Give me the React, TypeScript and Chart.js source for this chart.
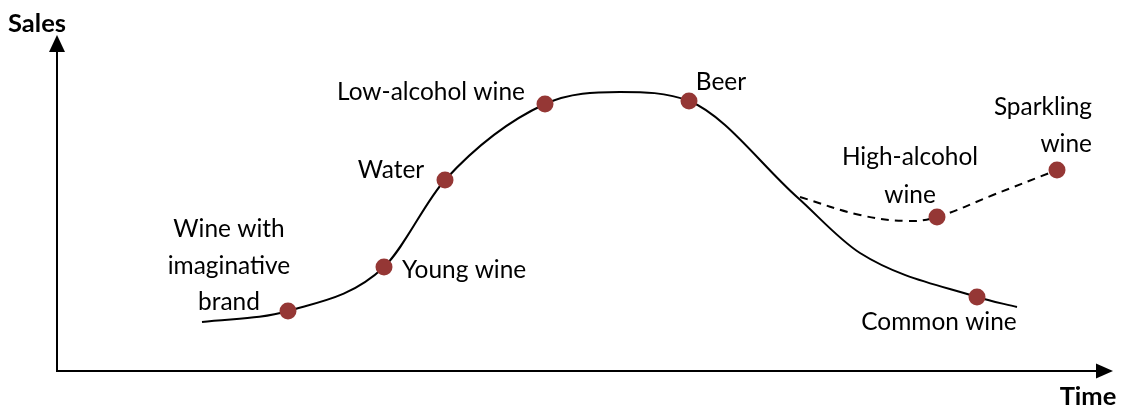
import { useEffect, useRef } from "react";
import { Chart, registerables } from "chart.js";

Chart.register(...registerables);

// Main life-cycle curve (time, sales)
const curveTime = [144, 230, 326, 387, 487, 562, 631, 739, 802, 919, 959];
const curveSales = [50, 61, 105, 192, 268, 280, 271, 175, 119, 75, 65];

// Relaunch branch (dashed)
const branchTime = [742, 802, 849, 879, 935, 999];
const branchSales = [175, 157, 151, 155, 177, 202];

// Products placed on the cycle
const products = [
  "Wine with imaginative brand",
  "Young wine",
  "Water",
  "Low-alcohol wine",
  "Beer",
  "High-alcohol wine",
  "Sparkling wine",
  "Common wine",
];
const productTime = [230, 326, 387, 487, 631, 879, 999, 919];
const productSales = [61, 105, 192, 268, 271, 155, 202, 75];

// Label text broken into lines, one entry per product
const productLabelLines = [
  ["Wine with", "imaginative", "brand"],
  ["Young wine"],
  ["Water"],
  ["Low-alcohol wine"],
  ["Beer"],
  ["High-alcohol", "wine"],
  ["Sparkling", "wine"],
  ["Common wine"],
];

const axisTitleY = "Sales";
const axisTitleX = "Time";

// Label placement relative to each dot: pixel offset, alignment, line height
const labelPlacement = [
  { dx: -59, dy: -74, align: "center", lh: 36.5 },
  { dx: 18, dy: 11, align: "left", lh: 37 },
  { dx: -54, dy: -2, align: "center", lh: 37 },
  { dx: -114, dy: -4, align: "center", lh: 37 },
  { dx: 32, dy: -11, align: "center", lh: 37 },
  { dx: -27, dy: -52, align: "center", lh: 38 },
  { dx: 35, dy: -55, align: "right", lh: 37 },
  { dx: -38, dy: 33, align: "center", lh: 37 },
];

const DOT = "#953735";
const FONT = "Lato, 'Open Sans', sans-serif";

function fitSize(ctx: CanvasRenderingContext2D, text: string, width: number, weight: string) {
  ctx.font = `${weight} 100px ${FONT}`;
  const w = ctx.measureText(text).width;
  return (100 * width) / w;
}

const diagramPlugin = {
  id: "lifecycleDecor",
  beforeDatasetsDraw(chart: any) {
    const { ctx, chartArea } = chart;
    const { left, right, top, bottom } = chartArea;
    ctx.save();
    ctx.strokeStyle = "#000";
    ctx.fillStyle = "#000";
    ctx.lineWidth = 2;
    const ax = left - 1;
    const ay = bottom - 1;
    // axis lines
    ctx.beginPath();
    ctx.moveTo(ax, ay);
    ctx.lineTo(ax, top + 14);
    ctx.moveTo(ax - 1, ay);
    ctx.lineTo(right - 14, ay);
    ctx.stroke();
    // arrow heads
    ctx.beginPath();
    ctx.moveTo(ax, top);
    ctx.lineTo(ax - 8, top + 17);
    ctx.lineTo(ax + 8, top + 17);
    ctx.closePath();
    ctx.fill();
    ctx.beginPath();
    ctx.moveTo(right, ay);
    ctx.lineTo(right - 17, ay - 7.5);
    ctx.lineTo(right - 17, ay + 7.5);
    ctx.closePath();
    ctx.fill();
    ctx.restore();
  },
  afterDatasetsDraw(chart: any) {
    const { ctx, scales } = chart;
    const xs = scales.x;
    const ys = scales.y;
    ctx.save();
    ctx.fillStyle = "#000";
    ctx.textBaseline = "alphabetic";

    const labelSize = fitSize(ctx, "Low-alcohol wine", 188, "normal");
    ctx.font = `normal ${labelSize}px ${FONT}`;
    productLabelLines.forEach((lines, i) => {
      const p = labelPlacement[i];
      const px = xs.getPixelForValue(productTime[i]) + p.dx;
      const py = ys.getPixelForValue(productSales[i]) + p.dy;
      ctx.textAlign = p.align;
      lines.forEach((line, k) => ctx.fillText(line, px, py + k * p.lh));
    });

    const titleSize = fitSize(ctx, axisTitleY, 58, "bold");
    ctx.font = `bold ${titleSize}px ${FONT}`;
    ctx.textAlign = "center";
    ctx.fillText(axisTitleY, 37, 32);
    ctx.fillText(axisTitleX, 1088, 405);
    ctx.restore();
  },
};

export default function App() {
  const canvasRef = useRef<HTMLCanvasElement | null>(null);

  useEffect(() => {
    const canvas = canvasRef.current;
    if (!canvas) return;
    const chart = new Chart(canvas, {
      type: "scatter",
      data: {
        datasets: [
          {
            label: "Products",
            data: productTime.map((t, i) => ({ x: t, y: productSales[i] })),
            backgroundColor: DOT,
            borderColor: DOT,
            pointRadius: 8.5,
            pointBorderWidth: 0,
            showLine: false,
            clip: false,
          },
          {
            label: "Life cycle",
            data: curveTime.map((t, i) => ({ x: t, y: curveSales[i] })),
            showLine: true,
            borderColor: "#000",
            borderWidth: 2,
            pointRadius: 0,
            cubicInterpolationMode: "monotone",
            clip: false,
          },
          {
            label: "Relaunch",
            data: branchTime.map((t, i) => ({ x: t, y: branchSales[i] })),
            showLine: true,
            borderColor: "#000",
            borderWidth: 2,
            borderDash: [8, 6],
            pointRadius: 0,
            tension: 0.4,
            clip: false,
          },
        ],
      },
      options: {
        responsive: false,
        animation: false,
        devicePixelRatio: 1,
        layout: { padding: { left: 58, right: 9, top: 35, bottom: 38 } },
        scales: {
          x: { type: "linear", min: 0, max: 1055, display: false },
          y: { type: "linear", min: 0, max: 337, display: false },
        },
        plugins: {
          legend: { display: false },
          tooltip: { enabled: false },
        },
      },
      plugins: [diagramPlugin],
    });
    return () => chart.destroy();
  }, []);

  return (
    <div style={{ position: "absolute", left: 0, top: 0, width: 1122, height: 410, background: "#fff" }}>
      <canvas ref={canvasRef} width={1122} height={410} aria-label={products.join(", ")} />
    </div>
  );
}
